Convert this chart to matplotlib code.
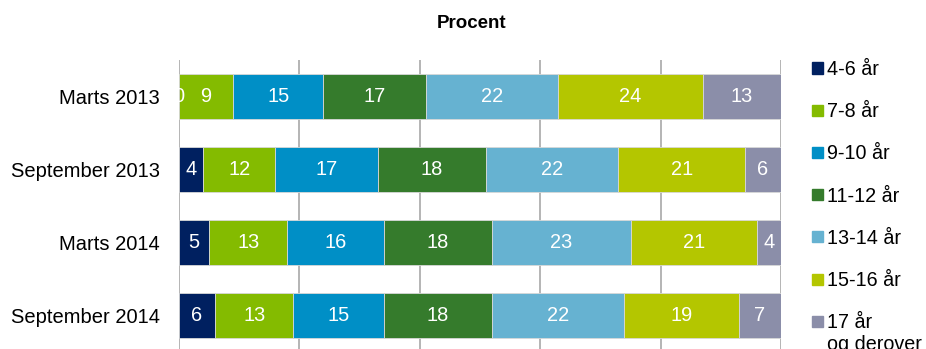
import numpy as np
import matplotlib.pyplot as plt
from matplotlib.patches import Rectangle

plt.rcParams['font.family'] = ['Liberation Sans', 'DejaVu Sans']

# Survey rounds (top to bottom) and age-group shares in percent
periods = ["Marts 2013", "September 2013", "Marts 2014", "September 2014"]
age_groups = ["4-6 år", "7-8 år", "9-10 år", "11-12 år", "13-14 år", "15-16 år", "17 år\nog derover"]
shares = [
    [0, 9, 15, 17, 22, 24, 13],
    [4, 12, 17, 18, 22, 21, 6],
    [5, 13, 16, 18, 23, 21, 4],
    [6, 13, 15, 18, 22, 19, 7],
]
colors = ["#002060", "#84BB00", "#008FC6", "#357B2C", "#66B2D1", "#B4C600", "#8B8EA9"]

W, H = 926, 349
fig = plt.figure(figsize=(W / 100, H / 100), dpi=100)
ax = fig.add_axes([179 / W, -3 / H, 602 / W, 292 / H])

data = np.array(shares, dtype=float)
y = np.arange(len(periods))
left = np.zeros(len(periods))
for j, name in enumerate(age_groups):
    vals = data[:, j]
    ax.barh(y, vals, left=left, height=0.63, color=colors[j],
            edgecolor="#d8d8d8", linewidth=0.6, zorder=3)
    for i, v in enumerate(vals):
        ax.text(left[i] + v / 2, y[i], f"{v:.0f}", ha="center", va="center",
                color="white", fontsize=14.4, zorder=4)
    left += vals

ax.set_xlim(0, 100)
ax.set_ylim(len(periods) - 0.5, -0.5)
ax.set_xticks(np.arange(0, 101, 20))
ax.tick_params(axis="x", length=0, labelbottom=False)
ax.tick_params(axis="y", length=0, labelsize=14.5, pad=14)
ax.set_yticks(y)
ax.set_yticklabels(periods)
ax.grid(axis="x", color="#a8a8a8", linewidth=1.2, zorder=0)
for s in ax.spines.values():
    s.set_visible(False)

fig.text(472 / W, 1 - 23 / H, "Procent", ha="center", va="center",
         fontsize=13.5, fontweight="bold")

# Legend entries stacked down the right side
for j, name in enumerate(age_groups):
    yc = 68 + 42.2 * j
    fig.add_artist(Rectangle((812 / W, 1 - (yc + 5.5) / H), 11 / W, 11 / H,
                             transform=fig.transFigure, color=colors[j]))
    fig.text(827 / W, 1 - (yc - 8) / H, name, ha="left", va="top",
             fontsize=14.2, linespacing=1.2)

fig.savefig("out.png", dpi=100)
